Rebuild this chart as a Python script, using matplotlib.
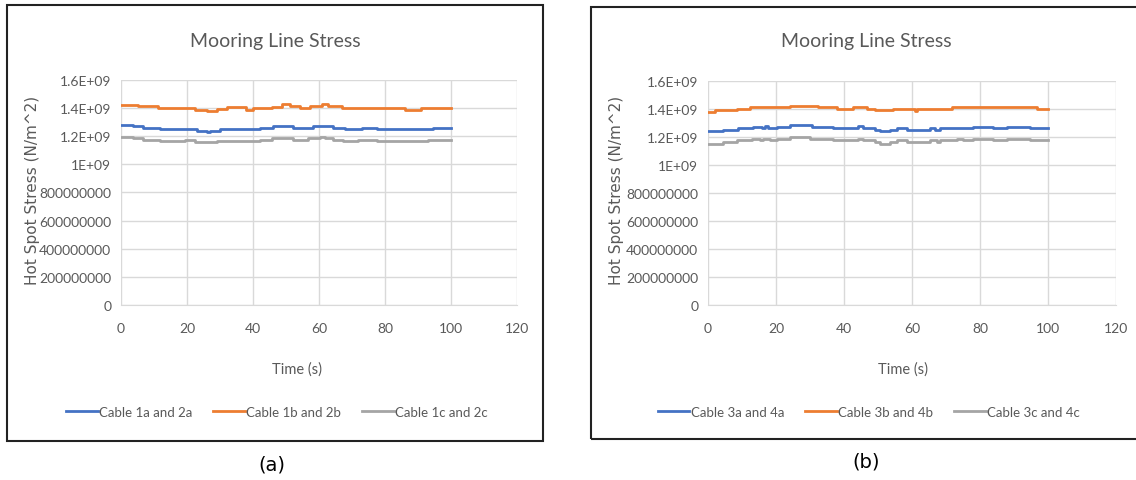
import matplotlib
matplotlib.use('Agg')
import matplotlib.pyplot as plt
from matplotlib.patches import Rectangle

plt.rcParams['font.family'] = ['Lato', 'DejaVu Sans']

# time breakpoints (s) and stress (N/m^2) for the step-like traces
t_1a = [0, 3.7, 6.8, 11.8, 22.9, 26, 27, 30, 42, 46.2, 52.2, 58.3, 64.3, 67.9, 72.9, 77.5, 94.6, 100]
s_1a = [1.282e9, 1.27e9, 1.259e9, 1.25e9, 1.238e9, 1.228e9, 1.238e9, 1.25e9, 1.261e9, 1.273e9,
        1.261e9, 1.273e9, 1.261e9, 1.25e9, 1.261e9, 1.25e9, 1.261e9, 1.261e9]

t_1b = [0, 5.3, 11.3, 22.4, 26, 29, 32, 38, 40, 45.7, 48.7, 51.2, 54.2, 57.3, 60.8, 62.8, 66.9, 86, 91, 100]
s_1b = [1.424e9, 1.412e9, 1.40e9, 1.39e9, 1.38e9, 1.393e9, 1.405e9, 1.39e9, 1.40e9, 1.41e9,
        1.426e9, 1.413e9, 1.40e9, 1.413e9, 1.426e9, 1.413e9, 1.40e9, 1.39e9, 1.40e9, 1.40e9]

t_1c = [0, 3.7, 6.8, 11.8, 19.4, 22.4, 29, 42, 45.7, 52.2, 56.8, 60.3, 61.8, 64.3, 67.4, 71.9, 77.5, 93, 100]
s_1c = [1.198e9, 1.188e9, 1.176e9, 1.167e9, 1.171e9, 1.158e9, 1.167e9, 1.176e9, 1.188e9,
        1.176e9, 1.188e9, 1.198e9, 1.188e9, 1.176e9, 1.167e9, 1.176e9, 1.167e9, 1.176e9, 1.176e9]

t_3a = [0, 4.5, 8.9, 13.3, 15.8, 16.8, 17.7, 20.2, 24.1, 30.5, 36.9, 44.2, 45.7, 49.1, 50.6, 53.5,
        55.5, 58.4, 65.3, 66.8, 68.2, 78, 83.9, 87.8, 94.7, 100]
s_3a = [1.24e9, 1.252e9, 1.262e9, 1.274e9, 1.264e9, 1.276e9, 1.262e9, 1.274e9, 1.286e9, 1.274e9,
        1.262e9, 1.276e9, 1.262e9, 1.25e9, 1.24e9, 1.252e9, 1.262e9, 1.252e9, 1.262e9, 1.252e9,
        1.262e9, 1.274e9, 1.262e9, 1.274e9, 1.262e9, 1.262e9]

t_3b = [0, 2.1, 8.4, 12.4, 24.1, 32.5, 37.8, 42.7, 46.7, 49.1, 54.5, 60.9, 61.4, 71.7, 96.7, 100]
s_3b = [1.381e9, 1.39e9, 1.402e9, 1.412e9, 1.424e9, 1.412e9, 1.40e9, 1.412e9, 1.40e9, 1.39e9,
        1.40e9, 1.388e9, 1.40e9, 1.414e9, 1.40e9, 1.40e9]

t_3c = [0, 4.5, 8.4, 12.8, 15.3, 16.3, 18.2, 20.2, 24.1, 30, 36.9, 44.2, 45.7, 49.1, 50.6, 53.5,
        55.5, 58.4, 65.3, 67.3, 68.2, 73.1, 75.1, 78, 83.9, 87.8, 94.7, 100]
s_3c = [1.152e9, 1.167e9, 1.176e9, 1.186e9, 1.176e9, 1.188e9, 1.176e9, 1.188e9, 1.198e9, 1.188e9,
        1.176e9, 1.188e9, 1.176e9, 1.164e9, 1.152e9, 1.164e9, 1.176e9, 1.164e9, 1.176e9, 1.164e9,
        1.176e9, 1.186e9, 1.176e9, 1.188e9, 1.176e9, 1.188e9, 1.176e9, 1.176e9]

labels_a = ['Cable 1a and 2a', 'Cable 1b and 2b', 'Cable 1c and 2c']
labels_b = ['Cable 3a and 4a', 'Cable 3b and 4b', 'Cable 3c and 4c']
colors = ['#4472C4', '#ED7D31', '#A5A5A5']

yticks = [0, 2e8, 4e8, 6e8, 8e8, 1e9, 1.2e9, 1.4e9, 1.6e9]
ytick_labels = ['0', '200000000', '400000000', '600000000', '800000000',
                '1E+09', '1.2E+09', '1.4E+09', '1.6E+09']
xticks = [0, 20, 40, 60, 80, 100, 120]

W, H = 1136, 481
fig = plt.figure(figsize=(W / 100, H / 100), dpi=100)
txt = '#595959'


def fx(px):
    return px / W


def fy(py):
    return 1 - py / H


def panel(rect, series, labels, box, title_x, xlab_x, leg_x, tag_x, tag, tag_y):
    ax = fig.add_axes(rect)
    for (t, s), lab, c in zip(series, labels, colors):
        ax.plot(t, s, drawstyle='steps-post', color=c, lw=2.0, label=lab)
    ax.set_xlim(0, 120)
    ax.set_ylim(0, 1.6e9)
    ax.set_xticks(xticks)
    ax.set_yticks(yticks)
    ax.set_yticklabels(ytick_labels)
    ax.tick_params(length=0, labelsize=10, labelcolor=txt)
    ax.tick_params(axis='x', pad=12)
    ax.tick_params(axis='y', pad=7)
    ax.grid(True, color='#d9d9d9', lw=1)
    ax.set_axisbelow(True)
    for sp in ax.spines.values():
        sp.set_visible(False)
    ax.spines['bottom'].set_visible(True)
    ax.spines['bottom'].set_color('#d9d9d9')

    # frame round each panel
    fig.add_artist(Rectangle((fx(box[0]), fy(box[3])), fx(box[2] - box[0]), (box[3] - box[1]) / H,
                             fill=False, ec='#222222', lw=1.5, transform=fig.transFigure))
    fig.text(fx(title_x), fy(42), 'Mooring Line Stress', ha='center', va='center',
             fontsize=14, color=txt)
    fig.text(fx(xlab_x), fy(370), 'Time (s)', ha='center', va='center', fontsize=10.5, color=txt)
    fig.text(fx(box[0] + 26), fy(190), 'Hot Spot Stress (N/m^2)', ha='center', va='center',
             rotation=90, fontsize=11, color=txt, family='DejaVu Sans')
    ax.legend(loc='center', bbox_to_anchor=(fx(leg_x), fy(413)), bbox_transform=fig.transFigure,
              ncol=3, frameon=False, fontsize=9.5, handlelength=2.4, handletextpad=0.1,
              columnspacing=1.6, labelcolor=txt)
    fig.text(fx(tag_x), fy(tag_y), tag, ha='center', va='center', fontsize=14,
             color='black', family='DejaVu Sans')
    return ax


panel([fx(121), fy(306), fx(396), 225 / H], [(t_1a, s_1a), (t_1b, s_1b), (t_1c, s_1c)],
      labels_a, (7, 6, 543, 442), 275, 297, 277, 272, '(a)', 465)
panel([fx(708), fy(306), fx(408), 224 / H], [(t_3a, s_3a), (t_3b, s_3b), (t_3c, s_3c)],
      labels_b, (591, 8, 1140, 440), 866, 903, 869, 866, '(b)', 462)

fig.savefig('out.png', dpi=100)
